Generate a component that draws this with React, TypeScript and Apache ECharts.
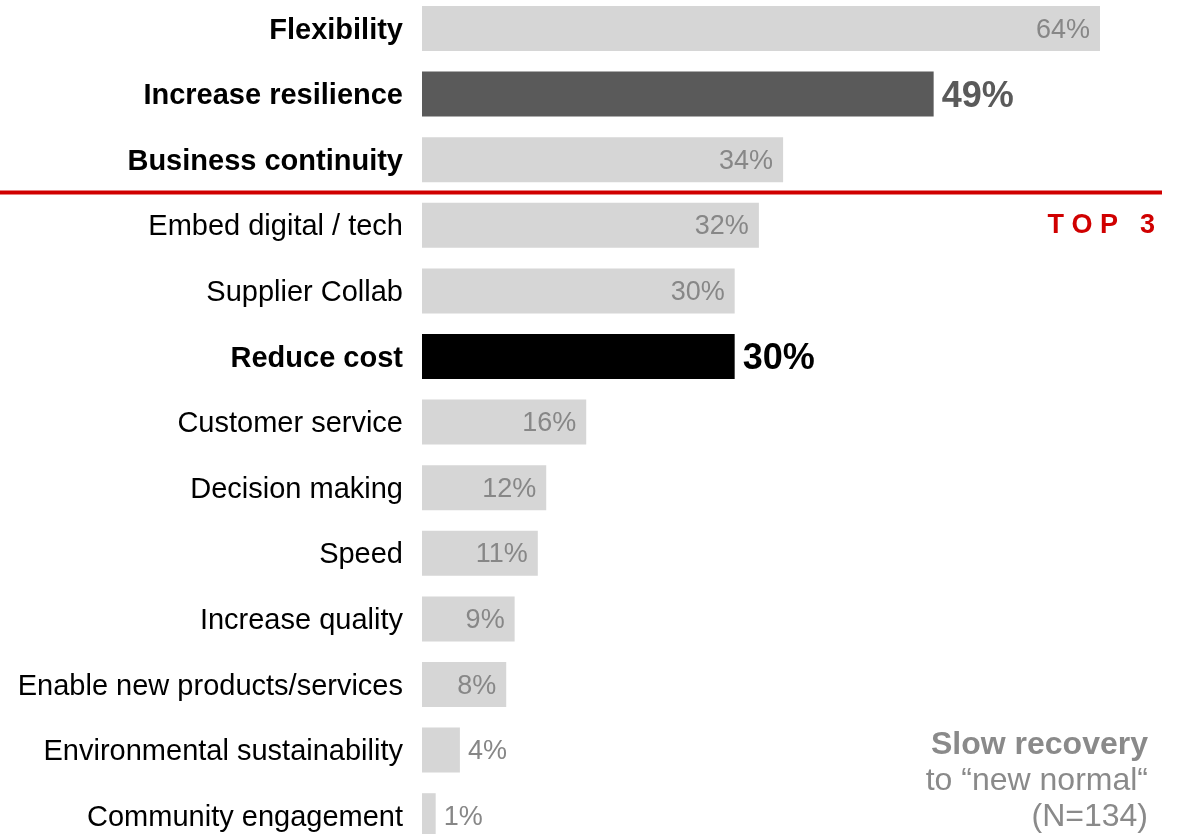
import React, { useEffect, useRef } from 'react';
import * as echarts from 'echarts';

// ---- data ----
const categories = [
  'Flexibility',
  'Increase resilience',
  'Business continuity',
  'Embed digital / tech',
  'Supplier Collab',
  'Reduce cost',
  'Customer service',
  'Decision making',
  'Speed',
  'Increase quality',
  'Enable new products/services',
  'Environmental sustainability',
  'Community engagement',
];
const values = [64.4, 48.6, 34.3, 32.0, 29.7, 29.7, 15.6, 11.8, 11.0, 8.8, 8.0, 3.6, 1.3];
const boldCategories = ['Flexibility', 'Increase resilience', 'Business continuity', 'Reduce cost'];
const highlightCategories = ['Increase resilience', 'Reduce cost'];
const top3Text = 'T O P   3';
const noteLines = ['Slow recovery', 'to \u201cnew normal\u201c', '(N=134)'];

// ---- styles ----
const FONT = '"Liberation Sans", Arial, Helvetica, sans-serif';
const highlightColors = ['#5a5a5a', '#000000'];
const baseColor = '#d6d6d6';
const valueColor = '#878787';
const red = '#d00000';
const OFFSET = 6; // chart canvas starts this many px above the page top

export default function App() {
  const ref = useRef<HTMLDivElement>(null);
  useEffect(() => {
    const chart = echarts.init(ref.current!, null, { renderer: 'svg' });
    const data = values.map((v, i) => {
      const cat = categories[i];
      const hi = highlightCategories.indexOf(cat);
      let label: any;
      if (hi >= 0) {
        label = { show: true, position: 'right', distance: 8, color: highlightColors[hi], fontSize: 36, fontWeight: 'bold' };
      } else if (v < 5) {
        label = { show: true, position: 'right', distance: 8, color: valueColor, fontSize: 27 };
      } else {
        label = { show: true, position: 'insideRight', distance: 10, color: valueColor, fontSize: 27 };
      }
      return { value: v, itemStyle: { color: hi >= 0 ? highlightColors[hi] : baseColor }, label };
    });
    chart.setOption({
      animation: false,
      grid: { left: 422, width: 758, top: OFFSET - 4.3, height: 852.8 },
      xAxis: { type: 'value', min: 0, max: 72, show: false },
      yAxis: {
        type: 'category',
        data: categories,
        inverse: true,
        axisLine: { show: false },
        axisTick: { show: false },
        splitLine: { show: false },
        axisLabel: {
          margin: 19,
          formatter: (v: string) => (boldCategories.includes(v) ? `{b|${v}}` : `{n|${v}}`),
          rich: {
            b: { fontSize: 29, fontWeight: 'bold', color: '#000', fontFamily: FONT },
            n: { fontSize: 29, color: '#000', fontFamily: FONT },
          },
        },
      },
      series: [
        {
          type: 'bar',
          data,
          barWidth: 45,
          label: {
            fontFamily: FONT,
            formatter: (p: any) => Math.round(p.value) + '%',
          },
        },
      ],
      graphic: [
        {
          type: 'line',
          shape: { x1: 0, y1: 192.5 + OFFSET, x2: 1162, y2: 192.5 + OFFSET },
          style: { stroke: red, lineWidth: 4 },
        },
        {
          type: 'text',
          x: 1155,
          y: 224 + OFFSET,
          style: {
            text: top3Text,
            fill: red,
            fontSize: 27,
            fontWeight: 'bold',
            fontFamily: FONT,
            textAlign: 'right',
            textVerticalAlign: 'middle',
          },
        },
        ...noteLines.map((t, i) => ({
          type: 'text',
          x: 1148,
          y: 743 + OFFSET + i * 36,
          style: {
            text: t,
            fill: '#8a8a8a',
            fontSize: 32,
            fontWeight: i === 0 ? 'bold' : 'normal',
            fontFamily: FONT,
            textAlign: 'right',
            textVerticalAlign: 'middle',
          },
        })),
      ],
    });
    return () => chart.dispose();
  }, []);
  return (
    <div style={{ position: 'fixed', left: 0, top: 0, width: 1183, height: 834, overflow: 'hidden' }}>
      <div
        ref={ref}
        style={{ position: 'absolute', left: 0, top: -OFFSET, width: 1183, height: 870 }}
      />
    </div>
  );
}
